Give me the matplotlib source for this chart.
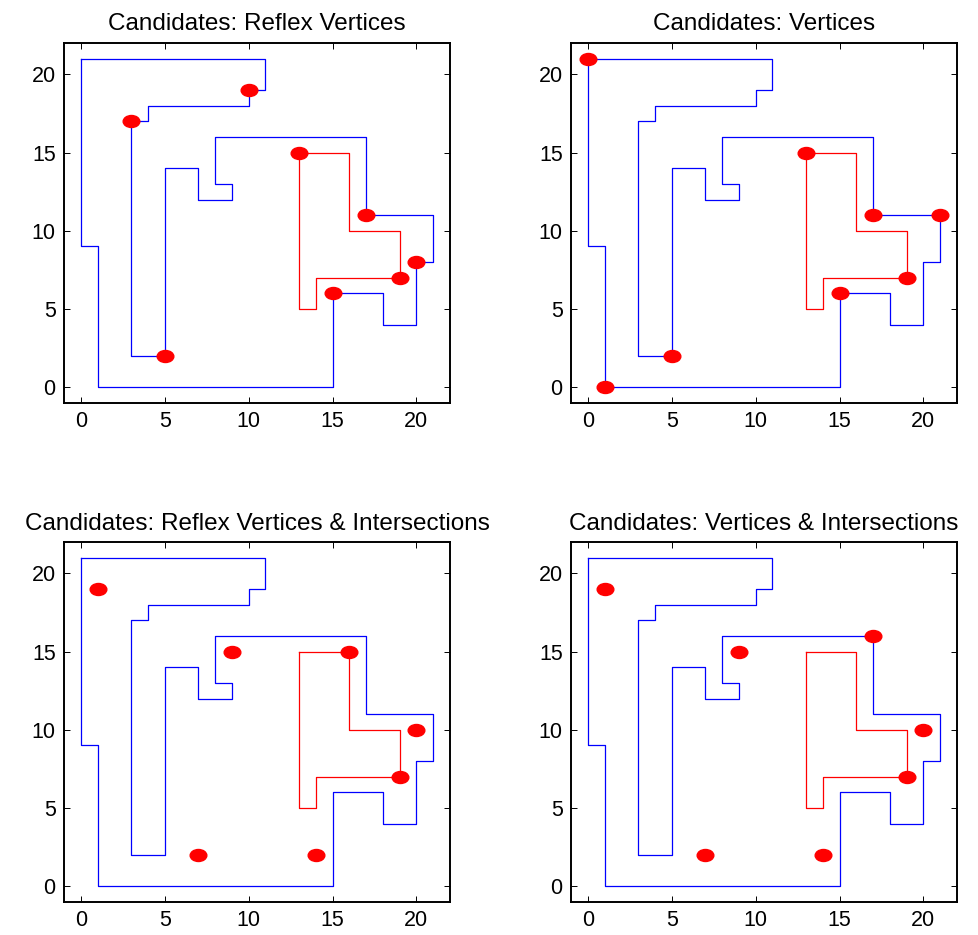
import matplotlib.pyplot as plt
import numpy as np
from matplotlib.path import Path
from matplotlib.transforms import Affine2D

plt.rcParams['font.family'] = ['Liberation Sans', 'DejaVu Sans']

# outer boundary (blue) and hole (red)
blue_x = [0, 11, 11, 10, 10, 4, 4, 3, 3, 5, 5, 7, 7, 9, 9, 8, 8, 17, 17, 21, 21, 20, 20, 18, 18, 15, 15, 1, 1, 0, 0]
blue_y = [21, 21, 19, 19, 18, 18, 17, 17, 2, 2, 14, 14, 12, 12, 13, 13, 16, 16, 11, 11, 8, 8, 4, 4, 6, 6, 0, 0, 9, 9, 21]
red_x = [13, 16, 16, 19, 19, 14, 14, 13, 13]
red_y = [15, 15, 10, 10, 7, 7, 5, 5, 15]

titles = ["Candidates: Reflex Vertices",
          "Candidates: Vertices",
          "Candidates: Reflex Vertices & Intersections",
          "Candidates: Vertices & Intersections"]

# candidate points per panel
cand_x = [[3, 10, 13, 17, 19, 20, 15, 5],
          [0, 13, 17, 21, 19, 15, 5, 1],
          [1, 9, 16, 20, 19, 7, 14],
          [1, 9, 17, 20, 19, 7, 14]]
cand_y = [[17, 19, 15, 11, 7, 8, 6, 2],
          [21, 15, 11, 11, 7, 6, 2, 0],
          [19, 15, 15, 10, 7, 2, 2],
          [19, 15, 16, 10, 7, 2, 2]]

# slightly flattened dot like in the original
ellipse = Path.unit_circle().transformed(Affine2D().scale(1.0, 0.72))

W, H = 979, 935
fig = plt.figure(figsize=(W / 100, H / 100), dpi=100)

# axes boxes in pixels: left, top, right, bottom
boxes = [(64, 43, 450, 403), (571, 43, 957, 403),
         (64, 542, 450, 902), (571, 542, 957, 902)]

for i in range(4):
    l, t, r, b = boxes[i]
    ax = fig.add_axes([l / W, 1 - b / H, (r - l) / W, (b - t) / H])
    ax.plot(blue_x, blue_y, color="blue", lw=0.9)
    ax.plot(red_x, red_y, color="red", lw=0.9)
    ax.plot(cand_x[i], cand_y[i], ls="none", marker=ellipse, ms=12,
            color="red", mec="red", zorder=3)
    ax.set_xlim(-1, 22)
    ax.set_ylim(-1, 22)
    ax.set_xticks([0, 5, 10, 15, 20])
    ax.set_yticks([0, 5, 10, 15, 20])
    ax.tick_params(direction="in", top=True, right=True, labelsize=15.5,
                   length=4, width=0.7, pad=6)
    for s in ax.spines.values():
        s.set_linewidth(1.4)
    ax.set_title(titles[i], fontsize=17.5, pad=9)

fig.savefig("out.png", dpi=100)
